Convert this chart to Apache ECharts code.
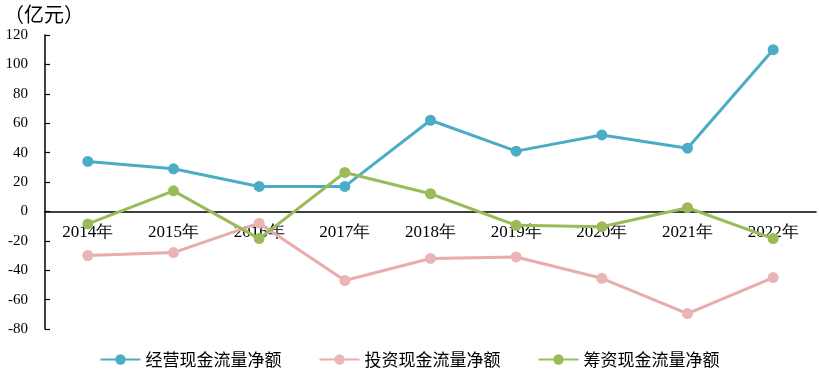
<!DOCTYPE html>
<html><head><meta charset="utf-8">
<script src="https://cdn.jsdelivr.net/npm/echarts@6/dist/echarts.min.js"></script>
<style>html,body{margin:0;padding:0;background:#fff}#c{width:819px;height:383px}</style>
</head><body><div id="c"></div>
<script>
const categories = ['2014年','2015年','2016年','2017年','2018年','2019年','2020年','2021年','2022年'];
const operating = [34, 29, 17, 17, 62, 41, 52, 43, 110];
const investing = [-30, -28, -8, -47, -32, -31, -45.5, -69.5, -45];
const financing = [-8.5, 14, -18.5, 26.5, 12, -9.5, -10.5, 2.5, -18.5];
const seriesNames = ['经营现金流量净额','投资现金流量净额','筹资现金流量净额'];
const yTicks = {min: -80, max: 120, interval: 20};
const unitLabel = '（亿元）';

const serif = '"Liberation Serif", "Times New Roman", serif';
const cjk = '"Noto Sans CJK SC", sans-serif';
const colors = ['#4bacc6', '#e8acac', '#9bbb59'];
const gridTop = 35, gridBottom = 54, H = 383;
const plotH = H - gridTop - gridBottom;
const zeroOffset = -plotH * (0 - yTicks.min) / (yTicks.max - yTicks.min);

const chart = echarts.init(document.getElementById('c'));
function mk(name, data, i){
  return {name, type:'line', data, symbol:'circle', symbolSize:11,
    lineStyle:{width:3, color:colors[i]}, itemStyle:{color:i===1?'#ebb5b5':colors[i]},
    emphasis:{disabled:true}, z: i===1?2:3};
}
chart.setOption({
  animation:false,
  graphic:[{type:'text', left:4, top:4, style:{text:unitLabel, font:'20px '+cjk, fill:'#000'}}],
  grid:{left:45, right:3, top:gridTop, bottom:gridBottom, containLabel:false},
  legend:{bottom:10, left:'center', itemWidth:40, itemHeight:13, itemGap:37,
    textStyle:{fontFamily:cjk, fontSize:17, color:'#000'}, data:seriesNames},
  xAxis:{type:'category', data:categories, boundaryGap:true, position:'bottom', offset:zeroOffset,
    axisLine:{onZero:false, lineStyle:{color:'#000', width:1.5}},
    axisTick:{inside:true, length:5, lineStyle:{color:'#000', width:1.2}},
    axisLabel:{fontFamily:serif, fontSize:17, color:'#000', margin:13}},
  yAxis:{type:'value', min:yTicks.min, max:yTicks.max, interval:yTicks.interval,
    axisLine:{show:true, lineStyle:{color:'#000', width:1.5}},
    axisTick:{show:true, inside:true, length:5, lineStyle:{color:'#000', width:1.2}},
    splitLine:{show:false},
    axisLabel:{fontFamily:serif, fontSize:15, color:'#000', margin:17}},
  series:[mk(seriesNames[0], operating, 0), mk(seriesNames[1], investing, 1), mk(seriesNames[2], financing, 2)]
});
</script></body></html>
